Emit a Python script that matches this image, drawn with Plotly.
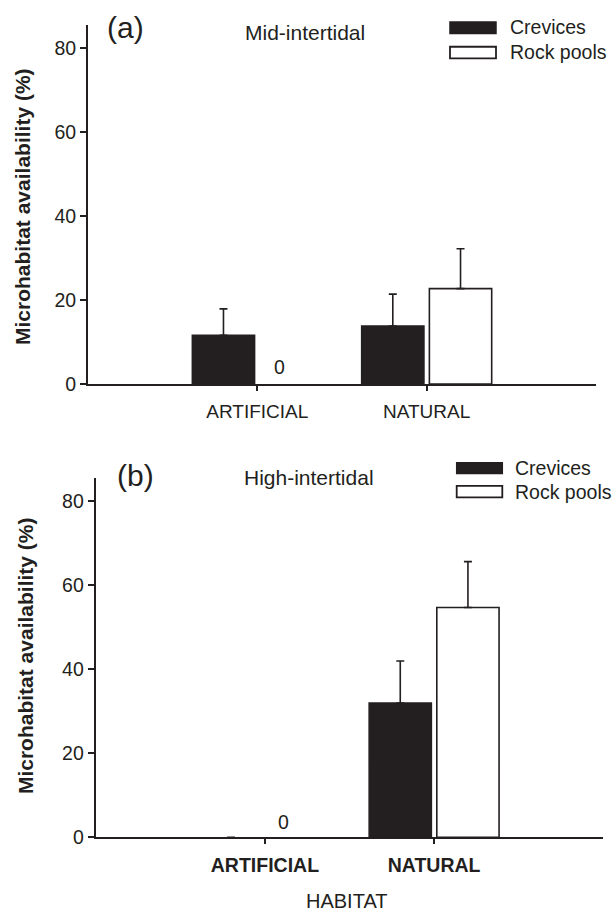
import numpy as np
import plotly.graph_objects as go

# ---- data ----
categories = ["ARTIFICIAL", "NATURAL"]
series_names = ["Crevices", "Rock pools"]

mid_crevices = [11.6, 13.8]
mid_crevices_se = [6.3, 7.6]
mid_pools = [0, 22.7]
mid_pools_se = [None, 9.5]

high_crevices = [0, 31.9]
high_crevices_se = [0, 10.0]
high_pools = [0, 54.6]
high_pools_se = [None, 10.9]

y_ticks = [0, 20, 40, 60, 80]
zero_label = "0"

# ---- styling ----
W, H = 614, 922
DARK = "#231f20"
FONT = "Liberation Sans, Arial, Helvetica, sans-serif"


def px(x):
    return x / W


def py(y):
    return (H - y) / H


def err(se):
    up = np.array(se, dtype=float)
    down = np.where(np.isnan(up), np.nan, 0.0)
    return dict(type="data", array=up, arrayminus=down, symmetric=False,
                color=DARK, thickness=1.6, width=4)


fig = go.Figure()


def add_bars(xa, ya, cre, cre_se, pool, pool_se):
    fig.add_trace(go.Bar(
        x=categories, y=cre, name=series_names[0], xaxis=xa, yaxis=ya,
        marker=dict(color=DARK,
                    line=dict(color=DARK, width=[1.5 if v else 0 for v in cre])),
        error_y=err(cre_se),
        showlegend=False,
    ))
    fig.add_trace(go.Bar(
        x=categories, y=pool, name=series_names[1], xaxis=xa, yaxis=ya,
        marker=dict(color="white",
                    line=dict(color=DARK, width=[1.6 if v else 0 for v in pool])),
        error_y=err(pool_se),
        showlegend=False,
    ))


add_bars("x", "y", mid_crevices, mid_crevices_se, mid_pools, mid_pools_se)
add_bars("x2", "y2", high_crevices, high_crevices_se, high_pools, high_pools_se)

A = dict(left=88, right=596, top=25, bottom=388.7)
B = dict(left=95.7, right=603.3, top=483.3, bottom=847.3)

common_x = dict(
    type="category", range=[-1, 2], showline=True, linewidth=2, linecolor=DARK,
    ticks="outside", ticklen=5, tickwidth=1.5, tickcolor=DARK,
    showgrid=False, zeroline=False, ticklabelstandoff=4,
)
common_y = dict(
    range=[0, 85.5], tickvals=y_ticks, showline=True, linewidth=2, linecolor=DARK,
    ticks="outside", ticklen=6, tickwidth=1.5, tickcolor=DARK,
    showgrid=False, zeroline=False,
    tickfont=dict(family=FONT, size=19.5, color=DARK),
)

fig.update_layout(
    width=W, height=H,
    margin=dict(l=0, r=0, t=0, b=0),
    paper_bgcolor="white", plot_bgcolor="white",
    barmode="group", bargap=0.2, bargroupgap=0.08,
    showlegend=False,
    xaxis=dict(common_x, domain=[px(A["left"]), px(A["right"])], anchor="y",
               tickfont=dict(family=FONT, size=19, color=DARK)),
    yaxis=dict(common_y, domain=[py(A["bottom"]), py(A["top"])], anchor="x"),
    xaxis2=dict(common_x, domain=[px(B["left"]), px(B["right"])], anchor="y2",
                tickfont=dict(family=FONT, size=19.5, color=DARK, weight="bold")),
    yaxis2=dict(common_y, domain=[py(B["bottom"]), py(B["top"])], anchor="x2"),
)

ann = []


def text(x, y, s, size, bold=False, xanchor="left", angle=0):
    ann.append(dict(
        x=px(x), y=py(y), xref="paper", yref="paper", text=s, showarrow=False,
        xanchor=xanchor, yanchor="middle", textangle=angle,
        font=dict(family=FONT, size=size, color=DARK, weight="bold" if bold else "normal"),
    ))


# panel labels and titles
text(105, 28.3, "(a)", 30)
text(243.3, 33.3, "Mid-intertidal", 21)
text(115, 481.7, "(b)", 30)
text(242, 483.3, "High-intertidal", 21)

# y-axis titles
text(22.5, 209, "Microhabitat availability (%)", 21, bold=True, xanchor="center", angle=-90)
text(25, 664, "Microhabitat availability (%)", 21, bold=True, xanchor="center", angle=-90)

# x-axis title
text(346.5, 911.7, "HABITAT", 20, xanchor="center")

# zero labels
text(279, 371.7, zero_label, 19.5, xanchor="center")
text(283, 831.7, zero_label, 19.5, xanchor="center")

# legends (manual swatches)
shapes = []


def legend(x0, x1, ytop1, ybot1, ytop2, ybot2, tx, ty1, ty2):
    shapes.append(dict(type="rect", xref="paper", yref="paper",
                       x0=px(x0), x1=px(x1), y0=py(ybot1), y1=py(ytop1),
                       fillcolor=DARK, line=dict(color=DARK, width=1.5)))
    shapes.append(dict(type="rect", xref="paper", yref="paper",
                       x0=px(x0), x1=px(x1), y0=py(ybot2), y1=py(ytop2),
                       fillcolor="white", line=dict(color=DARK, width=1.8)))
    text(tx, ty1, series_names[0], 19.5)
    text(tx, ty2, series_names[1], 19.5)


legend(450, 496, 22.3, 34, 47.3, 59, 508, 27.3, 52.7)
legend(456.7, 502.3, 468.3, 479.3, 491.7, 503.3, 513.3, 473.3, 498.3)

fig.update_layout(annotations=ann, shapes=shapes)

fig.write_html("out.html")
